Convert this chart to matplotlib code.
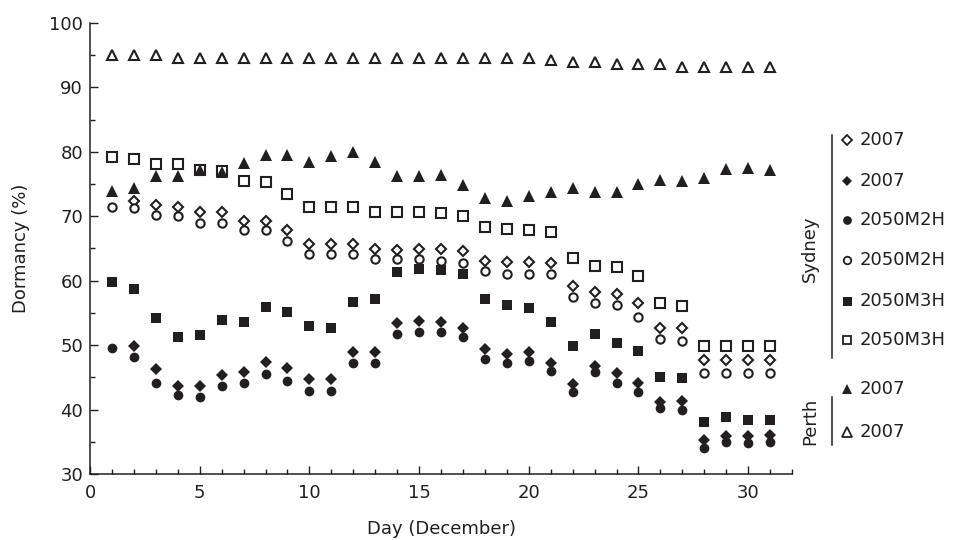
import numpy as np
import matplotlib
matplotlib.use('Agg')
import matplotlib.pyplot as plt
from matplotlib.lines import Line2D
from matplotlib.ticker import MultipleLocator

plt.rcParams['font.family'] = ['DejaVu Sans']
plt.rcParams['font.size'] = 13

# Dormancy (%) by day of December
days = np.arange(1, 32)
nan = np.nan

syd_2007_open = [nan, 72.4, 71.8, 71.4, 70.6, 70.6, 69.3, 69.3, 67.8, 65.7, 65.7,
                 65.7, 64.9, 64.8, 64.9, 64.9, 64.6, 63.1, 62.9, 62.9, 62.7,
                 59.2, 58.2, 57.9, 56.5, 52.6, 52.6, 47.7, 47.7, 47.7, 47.7]
syd_2007_fill = [nan, 49.9, 46.3, 43.7, 43.7, 45.4, 45.9, 47.4, 46.4, 44.7, 44.7,
                 49.0, 49.0, 53.4, 53.8, 53.6, 52.6, 49.4, 48.7, 49.0, 47.3,
                 44.0, 46.8, 45.6, 44.1, 41.1, 41.4, 35.3, 35.9, 35.9, 36.1]
syd_m2h_fill = [49.5, 48.1, 44.2, 42.2, 42.0, 43.7, 44.2, 45.5, 44.4, 42.9, 42.9,
                47.3, 47.3, 51.8, 52.1, 52.0, 51.2, 47.9, 47.3, 47.6, 46.0,
                42.7, 45.9, 44.2, 42.8, 40.2, 40.0, 34.0, 34.9, 34.8, 34.9]
syd_m2h_open = [71.5, 71.3, 70.2, 70.0, 68.9, 68.9, 67.9, 67.9, 66.2, 64.1, 64.1,
                64.2, 63.4, 63.3, 63.3, 63.1, 62.8, 61.5, 61.1, 61.1, 61.1,
                57.5, 56.5, 56.2, 54.4, 50.9, 50.7, 45.6, 45.6, 45.6, 45.6]
syd_m3h_fill = [59.8, 58.7, 54.2, 51.3, 51.6, 53.9, 53.6, 55.9, 55.2, 52.9, 52.6,
                56.7, 57.2, 61.3, 61.8, 61.6, 61.1, 57.2, 56.2, 55.7, 53.6,
                49.9, 51.8, 50.3, 49.1, 45.0, 44.9, 38.1, 38.9, 38.4, 38.4]
syd_m3h_open = [79.2, 78.9, 78.1, 78.1, 77.2, 77.1, 75.5, 75.3, 73.5, 71.5, 71.5,
                71.5, 70.7, 70.7, 70.7, 70.5, 70.0, 68.4, 68.1, 67.9, 67.6,
                63.6, 62.3, 62.1, 60.8, 56.5, 56.0, 49.8, 49.8, 49.8, 49.8]
perth_fill = [74.0, 74.4, 76.2, 76.2, 77.2, 76.9, 78.2, 79.5, 79.5, 78.5, 79.3,
              80.0, 78.5, 76.2, 76.2, 76.4, 74.9, 72.8, 72.3, 73.1, 73.8,
              74.4, 73.7, 73.8, 75.0, 75.7, 75.4, 75.9, 77.3, 77.5, 77.2]
perth_open = [95.0, 95.0, 95.0, 94.6, 94.6, 94.6, 94.6, 94.6, 94.6, 94.6, 94.6,
              94.6, 94.6, 94.6, 94.6, 94.6, 94.6, 94.6, 94.6, 94.6, 94.3,
              94.0, 94.0, 93.6, 93.6, 93.6, 93.1, 93.1, 93.1, 93.1, 93.1]

INK = '#231f20'
W, H = 957, 540
fig = plt.figure(figsize=(W / 100, H / 100), dpi=100)
ax = fig.add_axes([90 / W, 1 - 474 / H, 702 / W, 451 / H])

# name -> (data, marker, filled, markersize)
series = {
    'm3h_open': (syd_m3h_open, 's', False, 6.6),
    '2007_open': (syd_2007_open, 'D', False, 5.4),
    'm2h_open': (syd_m2h_open, 'o', False, 6.0),
    'm3h_fill': (syd_m3h_fill, 's', True, 7.2),
    '2007_fill': (syd_2007_fill, 'D', True, 6.2),
    'm2h_fill': (syd_m2h_fill, 'o', True, 7.0),
    'perth_fill': (perth_fill, '^', True, 8.4),
    'perth_open': (perth_open, '^', False, 7.6),
}
for vals, mk, filled, ms in series.values():
    ax.plot(days, vals, linestyle='none', marker=mk, ms=ms,
            mfc=INK if filled else 'white', mec=INK,
            mew=0 if filled else 1.5)

ax.set_xlim(0, 32)
ax.set_ylim(30, 100)
ax.xaxis.set_minor_locator(MultipleLocator(1))
ax.yaxis.set_major_locator(MultipleLocator(10))
ax.yaxis.set_minor_locator(MultipleLocator(5))
ax.set_xticks(range(0, 31, 5))
ax.tick_params(which='both', direction='in', width=1.0, colors=INK)
ax.tick_params(which='major', length=6)
ax.tick_params(which='minor', length=3.5)
ax.tick_params(axis='x', pad=7)
ax.tick_params(axis='y', pad=5)
for s in ['top', 'right']:
    ax.spines[s].set_visible(False)
for s in ['left', 'bottom']:
    ax.spines[s].set_linewidth(1.1)
    ax.spines[s].set_color(INK)

ax.set_xlabel('Day (December)', color=INK)
ax.set_ylabel('Dormancy (%)', color=INK)
ax.xaxis.set_label_coords(0.5, -0.102)
ax.yaxis.set_label_coords(-0.085, 0.5)

# legend drawn by hand, grouped by site
def fx(x):
    return x / W

def fy(y):
    return 1 - y / H

legend_order = ['2007_open', '2007_fill', 'm2h_fill', 'm2h_open',
                'm3h_fill', 'm3h_open', 'perth_fill', 'perth_open']
legend_labels = ['2007', '2007', '2050M2H', '2050M2H', '2050M3H', '2050M3H', '2007', '2007']
rows_y = [140, 181, 220, 260, 301, 340, 389, 432]
for key, lab, ry in zip(legend_order, legend_labels, rows_y):
    vals, mk, filled, ms = series[key]
    fig.add_artist(Line2D([fx(847)], [fy(ry)], linestyle='none', marker=mk, ms=ms * 0.9,
                          mfc=INK if filled else 'white', mec=INK,
                          mew=0 if filled else 1.3))
    fig.text(fx(860), fy(ry), lab, ha='left', va='center', color=INK)

fig.add_artist(Line2D([fx(832), fx(832)], [fy(135), fy(358)], color=INK, lw=1.1))
fig.add_artist(Line2D([fx(832), fx(832)], [fy(397), fy(445)], color=INK, lw=1.1))
fig.text(fx(810), fy(249), 'Sydney', rotation=90, ha='center', va='center', color=INK)
fig.text(fx(810), fy(421), 'Perth', rotation=90, ha='center', va='center', color=INK)

fig.savefig('out.png', dpi=100)
